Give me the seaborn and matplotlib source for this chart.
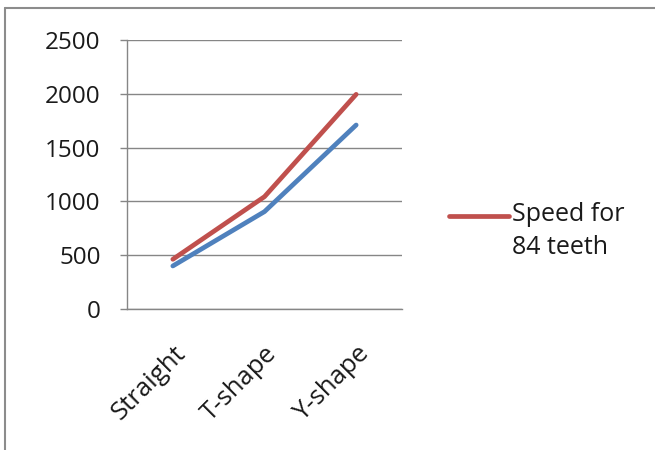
import matplotlib
matplotlib.use("Agg")
import matplotlib.pyplot as plt
import matplotlib.transforms as mtransforms
from matplotlib.lines import Line2D
from matplotlib.legend_handler import HandlerLine2D
import numpy as np
import seaborn as sns
import pandas as pd

# Chart data
shapes = ["Straight", "T-shape", "Y-shape"]
speed_84_teeth = [462, 1044, 1995]
speed_other = [400, 905, 1710]
y_ticks = [0, 500, 1000, 1500, 2000, 2500]

red = "#C0504D"
blue = "#4F81BD"
grid_gray = "#868686"
text_color = "#1a1a1a"

sns.set_style("white")
plt.rcParams["font.family"] = ["Open Sans", "DejaVu Sans"]

df = pd.DataFrame({
    "pos": range(len(shapes)),
    "shape": shapes,
    "red": speed_84_teeth,
    "blue": speed_other,
})


class FirstLineHandler(HandlerLine2D):
    """Legend line aligned with the first line of a two-line label."""

    def create_artists(self, legend, orig_handle, xdescent, ydescent,
                       width, height, fontsize, trans):
        artists = super().create_artists(legend, orig_handle, xdescent, ydescent,
                                         width, height, fontsize, trans)
        for a in artists:
            a.set_ydata(np.asarray(a.get_ydata()) + 0.65 * fontsize)
        return artists


fig = plt.figure(figsize=(6.55, 4.5), dpi=100)
ax = fig.add_axes([127 / 655, 1 - 309 / 450, (402 - 127) / 655, (309 - 40) / 450])

sns.lineplot(data=df, x="pos", y="blue", ax=ax, color=blue, linewidth=3.4,
             solid_capstyle="round", legend=False)
sns.lineplot(data=df, x="pos", y="red", ax=ax, color=red, linewidth=3.4,
             solid_capstyle="round", legend=False)

ax.set_xlim(-0.5, len(shapes) - 0.5)
ax.set_ylim(0, 2500)
ax.set_yticks(y_ticks)
ax.set_yticklabels([str(v) for v in y_ticks], fontsize=17.5, color=text_color)
ax.yaxis.grid(True, color=grid_gray, linewidth=1.0)
ax.set_axisbelow(True)

# Category labels at centres, tick marks on the boundaries between categories
ax.set_xticks(range(len(shapes)))
ax.set_xticklabels(shapes, rotation=45, ha="right", rotation_mode="anchor",
                   fontsize=18.5, color=text_color)
shift = mtransforms.ScaledTranslation(-4 / 100, 1 / 100, fig.dpi_scale_trans)
for lbl in ax.get_xticklabels():
    lbl.set_transform(lbl.get_transform() + shift)
ax.set_xticks([i - 0.5 for i in range(len(shapes) + 1)], minor=True)
ax.tick_params(axis="x", which="major", length=0, pad=23)
ax.tick_params(axis="x", which="minor", length=5, width=1, color=grid_gray,
               direction="out")
ax.tick_params(axis="y", length=5, width=1, color=grid_gray, direction="out",
               pad=14, left=True)
ax.set_xlabel("")
ax.set_ylabel("")

for side in ["top", "right"]:
    ax.spines[side].set_visible(False)
for side in ["left", "bottom"]:
    ax.spines[side].set_color(grid_gray)
    ax.spines[side].set_linewidth(1.0)

# Legend entry for the 84-teeth series
handle = Line2D([0], [0], color=red, linewidth=3.4, solid_capstyle="round")
leg = fig.legend([handle], ["Speed for\n84 teeth"], loc="center left",
                 bbox_to_anchor=(426 / 655, 1 - 231 / 450), frameon=False,
                 fontsize=18, handlelength=2.4, handletextpad=0.15,
                 labelcolor=text_color,
                 handler_map={Line2D: FirstLineHandler()})
leg.get_texts()[0].set_linespacing(1.38)

# Outer chart frame (left and top edges)
fig.add_artist(Line2D([5 / 655, 5 / 655], [0, 1 - 8 / 450],
                      transform=fig.transFigure, color="#8c8c8c", linewidth=1.5))
fig.add_artist(Line2D([5 / 655, 1], [1 - 8 / 450, 1 - 8 / 450],
                      transform=fig.transFigure, color="#8c8c8c", linewidth=1.5))

fig.savefig("out.png", dpi=100)
